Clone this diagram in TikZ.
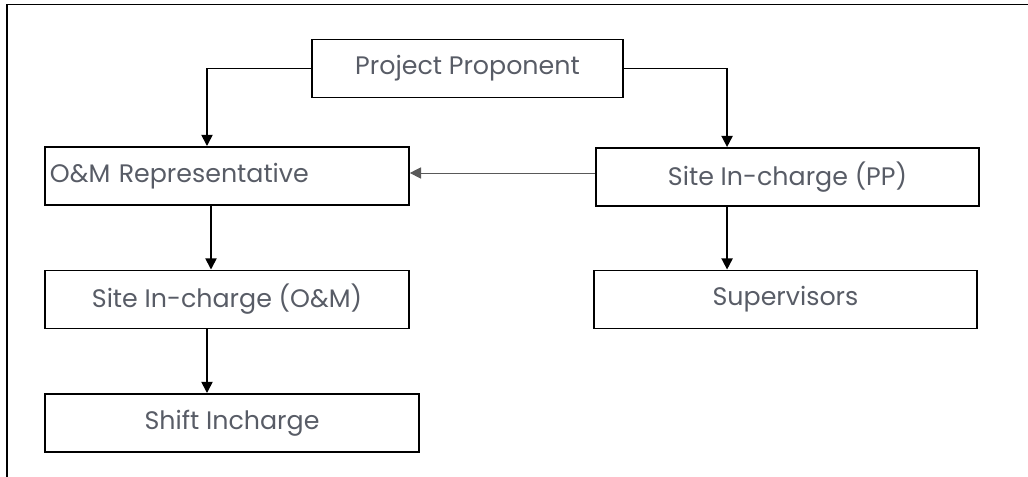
\documentclass[tikz,border=0pt]{standalone}
\usepackage{fontspec}
\setmainfont{Poppins}
\usetikzlibrary{arrows.meta}
\definecolor{labelgray}{RGB}{88,92,102}

\begin{document}
\begin{tikzpicture}[x=0.025cm, y=-0.025cm,
	every node/.style={font=\fontsize{18}{20}\selectfont, text=labelgray},
	box/.style={draw=black, line width=1.1pt, minimum height=1.46cm, inner sep=0pt},
	link/.style={line width=1.2pt, -{Triangle[length=8pt,width=8pt]}},
	thinlink/.style={draw=black!65, line width=0.6pt, -{Triangle[length=8pt,width=8pt]}}]
	\useasboundingbox (0,0) rectangle (1028,477);
	% page frame (top and left edges only)
	\draw[line width=1.4pt] (7,477) -- (7,4.5) -- (1028,4.5);
	% boxes
	\node[box, minimum width=7.775cm] (pp) at (467.5,68.5) {Project Proponent};
	\node[box, text width=8.85cm, align=left, inner xsep=0.125cm] (omr) at (227,176) {O\&M Representative};
	\node[box, minimum width=9.575cm] (sipp) at (787.5,177) {Site In-charge (PP)};
	\node[box, minimum width=9.1cm] (siom) at (227,299.5) {Site In-charge (O\&M)};
	\node[box, minimum width=9.575cm] (sup) at (785.5,299.5) {Supervisors};
	\node[box, minimum width=9.35cm] (shiftic) at (232,423) {Shift Incharge};
	% connectors
	\draw[link] (pp.west) -| ([xshift=-0.5cm]omr.north);
	\draw[link] (pp.east) -| ([xshift=-1.51cm]sipp.north);
	\draw[thinlink] ([yshift=0.1cm]sipp.west) -- ([yshift=0.1cm]sipp.west -| omr.east);
	\draw[link] ([xshift=-0.4cm]omr.south) -- ([xshift=-0.4cm]omr.south |- siom.north);
	\draw[link] ([xshift=-0.5cm]siom.south) -- ([xshift=-0.5cm]siom.south |- shiftic.north);
	\draw[link] ([xshift=-1.51cm]sipp.south) -- ([xshift=-1.51cm]sipp.south |- sup.north);
\end{tikzpicture}
\end{document}
